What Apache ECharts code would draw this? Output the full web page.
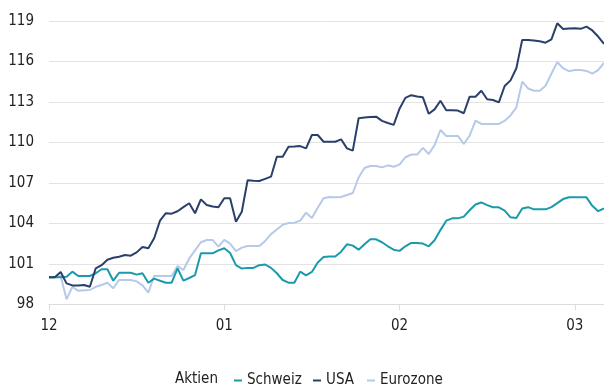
<!DOCTYPE html>
<html>
<head>
<meta charset="utf-8">
<script src="https://cdn.jsdelivr.net/npm/echarts@6/dist/echarts.min.js"></script>
<style>
  html, body { margin: 0; padding: 0; background: #fff; }
  #main { width: 604px; height: 385px; }
</style>
</head>
<body>
<div id="main"></div>
<script>
// Aktienindizes, 12 = 100
var seriesNames = ['Schweiz', 'USA', 'Eurozone'];
var tickLabels = ['12', '01', '02', '03'];
var ticksEvery = 30; // Tage pro Monatsmarke

var schweiz = [
  100.0, 100.0, 100.0, 100.05, 100.42, 100.1, 100.1, 100.1, 100.3, 100.6,
  100.6, 99.75, 100.34, 100.34, 100.34, 100.2, 100.3, 99.6, 99.9, 99.75,
  99.6, 99.6, 100.67, 99.75, 99.95, 100.17, 101.78, 101.78, 101.78, 102.0,
  102.15, 101.8, 100.9, 100.65, 100.7, 100.7, 100.9, 100.95, 100.7, 100.3,
  99.8, 99.6, 99.6, 100.42, 100.15, 100.4, 101.1, 101.5, 101.55, 101.55,
  101.9, 102.45, 102.35, 102.05, 102.45, 102.82, 102.82, 102.6, 102.3, 102.05,
  101.96, 102.3, 102.55, 102.55, 102.5, 102.3, 102.75, 103.5, 104.2, 104.37,
  104.37, 104.5, 104.97, 105.4, 105.55, 105.35, 105.19, 105.19, 104.95, 104.45,
  104.4, 105.1, 105.2, 105.04, 105.04, 105.04, 105.2, 105.5, 105.8, 105.93,
  105.93, 105.93, 105.93, 105.3, 104.9, 105.1
];

var usa = [
  100.0, 100.0, 100.4, 99.55, 99.4, 99.4, 99.43, 99.3, 100.67, 100.9,
  101.3, 101.45, 101.53, 101.65, 101.6, 101.85, 102.25, 102.15, 102.9, 104.2,
  104.75, 104.72, 104.9, 105.2, 105.49, 104.75, 105.78, 105.36, 105.25, 105.19,
  105.86, 105.86, 104.12, 104.86, 107.2, 107.16, 107.14, 107.3, 107.46, 108.94,
  108.94, 109.68, 109.7, 109.73, 109.56, 110.55, 110.55, 110.05, 110.05, 110.05,
  110.23, 109.56, 109.39, 111.79, 111.85, 111.88, 111.91, 111.6, 111.44, 111.3,
  112.5, 113.3, 113.5, 113.4, 113.34, 112.12, 112.45, 113.09, 112.38, 112.38,
  112.36, 112.16, 113.39, 113.39, 113.83, 113.2, 113.14, 112.97, 114.18, 114.6,
  115.5, 117.6, 117.6, 117.55, 117.5, 117.39, 117.64, 118.83, 118.41, 118.44,
  118.46, 118.42, 118.58, 118.3, 117.85, 117.3
];

var eurozone = [
  100.0, 100.0, 100.1, 98.37, 99.3, 99.0, 99.05, 99.06, 99.3, 99.43,
  99.6, 99.19, 99.8, 99.8, 99.8, 99.7, 99.4, 98.86, 100.1, 100.1,
  100.1, 100.1, 100.84, 100.54, 101.4, 102.0, 102.6, 102.77, 102.77, 102.27,
  102.77, 102.5, 101.95, 102.2, 102.32, 102.32, 102.32, 102.7, 103.2, 103.55,
  103.9, 104.03, 104.05, 104.2, 104.79, 104.4, 105.15, 105.86, 105.95, 105.93,
  105.95, 106.1, 106.25, 107.4, 108.1, 108.25, 108.25, 108.15, 108.3, 108.2,
  108.35, 108.9, 109.1, 109.1, 109.6, 109.14, 109.8, 110.92, 110.48, 110.48,
  110.48, 109.88, 110.5, 111.61, 111.37, 111.37, 111.37, 111.37, 111.6, 112.0,
  112.6, 114.5, 114.0, 113.83, 113.83, 114.2, 115.1, 115.94, 115.5, 115.28,
  115.37, 115.37, 115.3, 115.1, 115.35, 115.9
];

var colors = ['#1a9aab', '#2b3f6b', '#b7c9e8'];

// Kategorien = Handelstage (Index)
var days = usa.map(function (v, i) { return i; });

function isMonthTick(i) { return i % ticksEvery === 0; }

var fontFamily = "'Liberation Sans Narrow', 'DejaVu Sans Condensed', sans-serif";
var legendLeft = [229, 308, 362];

function legendFor(name, i) {
    return {
        left: legendLeft[i],
        top: 368,
        itemWidth: 8,
        itemHeight: 2,
        icon: 'rect',
        textStyle: { fontSize: 15, color: '#222', fontFamily: fontFamily },
        data: [name]
    };
}

var myChart = echarts.init(document.getElementById('main'));
var option = {
    animation: false,
    color: colors,
    textStyle: { fontFamily: fontFamily },
    grid: {
        left: 49,
        top: 21,
        width: 557.6,
        height: 283.3
    },
    graphic: [{
        type: 'text',
        left: 175,
        top: 372,
        style: {
            text: 'Aktien',
            fontSize: 15,
            fontFamily: fontFamily,
            fill: '#222'
        }
    }],
    legend: seriesNames.map(legendFor),
    xAxis: {
        type: 'category',
        boundaryGap: false,
        data: days,
        axisLine: { lineStyle: { color: '#dcdcdc', width: 1 } },
        axisTick: {
            interval: function (i) { return isMonthTick(i); },
            length: 6,
            lineStyle: { color: '#dcdcdc' }
        },
        axisLabel: {
            interval: function (i) { return isMonthTick(i); },
            formatter: function (v, i) { return tickLabels[i / ticksEvery] || ''; },
            margin: 14,
            fontSize: 15,
            color: '#222'
        },
        splitLine: { show: false }
    },
    yAxis: {
        type: 'value',
        min: 98,
        max: 119,
        interval: 3,
        axisLine: { show: false },
        axisTick: { show: false },
        axisLabel: { margin: 15, fontSize: 15, color: '#222' },
        splitLine: { lineStyle: { color: '#e3e3e3', width: 1 } }
    },
    series: [
        { name: 'Schweiz', type: 'line', data: schweiz, symbol: 'none', z: 3,
          lineStyle: { width: 2 } },
        { name: 'USA', type: 'line', data: usa, symbol: 'none', z: 4,
          lineStyle: { width: 2 } },
        { name: 'Eurozone', type: 'line', data: eurozone, symbol: 'none', z: 2,
          lineStyle: { width: 2 } }
    ]
};
myChart.setOption(option);
</script>
</body>
</html>
